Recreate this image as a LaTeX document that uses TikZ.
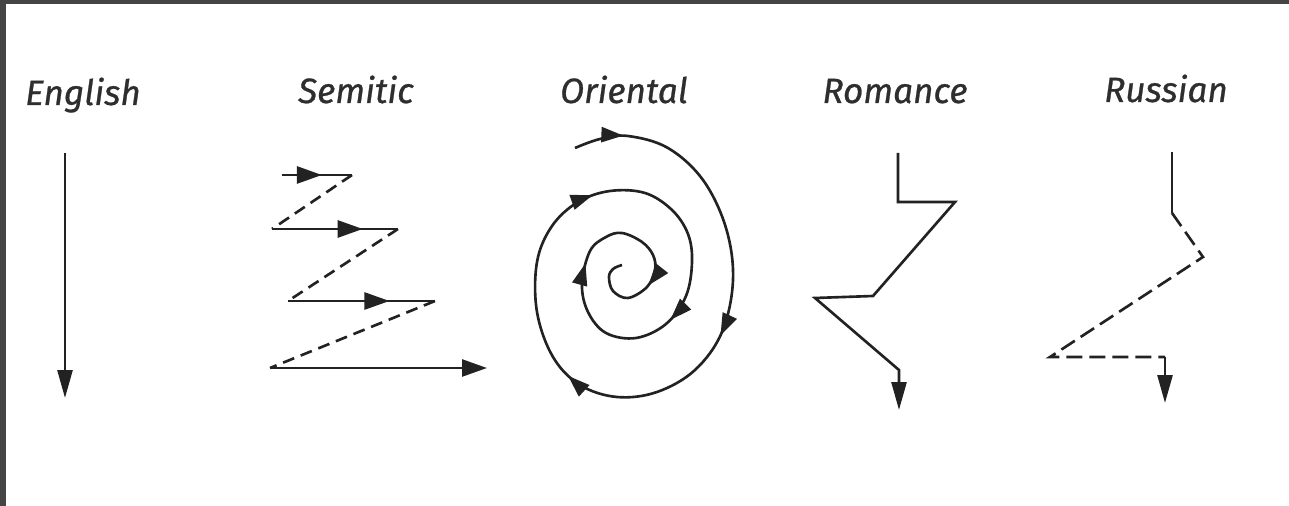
\documentclass[tikz,border=0pt]{standalone}
\usepackage{fontspec}
\setmainfont{Fira Sans}[ItalicFeatures={FakeBold=0.7}]
\usetikzlibrary{arrows.meta, decorations.markings}
\definecolor{inkdark}{HTML}{222222}
\definecolor{inklabel}{HTML}{2E2E2E}
\definecolor{framegray}{HTML}{454545}
\tikzset{
  sptip/.tip={Triangle[length=0.44cm, width=0.3cm]},
  semtip/.tip={Triangle[length=0.5cm, width=0.34cm]},
  downtip/.tip={Triangle[length=0.56cm, width=0.3cm]}
}

\begin{document}
\begin{tikzpicture}[x=0.02cm, y=-0.02cm,
    line/.style={draw=inkdark, line width=1.5pt, line join=miter},
    dashline/.style={line, dash pattern=on 0.24cm off 0.14cm},
    longdash/.style={line, dash pattern=on 0.32cm off 0.14cm},
    lbl/.style={anchor=base, font=\itshape\fontsize{20}{24}\selectfont, text=inklabel, inner sep=0pt},
    midtip/.style={postaction={decorate, decoration={markings, mark=at position #1 with {\arrow{semtip}}}}},
    spiralmark/.style={postaction={decorate, decoration={markings, mark=at position #1 with {\arrow{sptip}}}}}
  ]
  % page and scan frame
  \fill[white] (0,0) rectangle (1289,506);
  \useasboundingbox (0,0) rectangle (1289,506);
  \fill[framegray] (0,0) rectangle (1289,4);
  \fill[framegray] (0,0) rectangle (6,506);

  % labels
  \foreach \name/\x/\y in {English/83/105, Semitic/356/103, Oriental/624/103, Romance/895/103, Russian/1166/102} {
    \node[lbl] (lbl\name) at (\x,\y) {\name};
  }

  % English
  \coordinate (e0) at (65,153);
  \coordinate (e1) at (65,398);
  \draw[line, -downtip] (e0) -- (e1);

  % Semitic
  \coordinate (s1) at (282,175);
  \coordinate (s2) at (352,175);
  \coordinate (s3) at (272,229);
  \coordinate (s4) at (398,229);
  \coordinate (s5) at (288,301);
  \coordinate (s6) at (435,301);
  \coordinate (s7) at (270,368);
  \coordinate (s8) at (487,368);
  \draw[line, midtip=0.57] (s1) -- (s2);
  \draw[dashline] (s2) -- (s3);
  \draw[line, midtip=0.72] (s3) -- (s4);
  \draw[dashline] (s4) -- (s5);
  \draw[line, midtip=0.69] (s5) -- (s6);
  \draw[dashline] (s6) -- (s7);
  \draw[line, -semtip] (s7) -- (s8);

  % Oriental
  \draw[line, spiralmark/.list={0.04,0.245,0.39,0.56,0.724,0.842,0.94}]
    plot[smooth, tension=0.6] coordinates {
      (575,148) (600,139) (628,136) (668,148) (703,180) (726,228) (733,280)
      (722,332) (695,370) (657,392) (617,397) (580,385) (553,357) (537,312)
      (537,262) (552,226) (578,202) (610,191) (645,193) (672,210) (688,234)
      (692,262) (686,296) (666,324) (636,338) (606,333) (588,312) (582,284)
      (590,251) (606,237) (622,233) (642,242) (653,255) (655,270) (647,287)
      (628,298) (613,291) (609,277) (613,269) (622,265)};

  % Romance
  \coordinate (r0) at (898,153);
  \coordinate (r1) at (898,202);
  \coordinate (r2) at (955,202);
  \coordinate (r3) at (873,296);
  \coordinate (r4) at (815,298);
  \coordinate (r5) at (899,370);
  \coordinate (r6) at (899,410);
  \draw[line, -downtip] (r0) -- (r1) -- (r2) -- (r3) -- (r4) -- (r5) -- (r6);

  % Russian
  \coordinate (u0) at (1172,152);
  \coordinate (u1) at (1172,213);
  \coordinate (u2) at (1203,257);
  \coordinate (u3) at (1050,357);
  \coordinate (u4) at (1165,357);
  \coordinate (u5) at (1165,403);
  \draw[line] (u0) -- (u1);
  \draw[longdash] (u1) -- (u2) -- (u3) -- (u4);
  \draw[line, -downtip] (u4) -- (u5);
\end{tikzpicture}
\end{document}
